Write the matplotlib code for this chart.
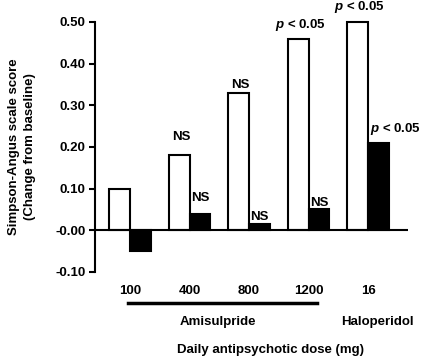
import numpy as np
import matplotlib
matplotlib.use("Agg")
import matplotlib.pyplot as plt
import matplotlib.transforms as mtransforms

plt.rcParams['font.family'] = ['Liberation Sans', 'DejaVu Sans']
plt.rcParams['font.weight'] = 'bold'
plt.rcParams['mathtext.fontset'] = 'custom'
plt.rcParams['mathtext.it'] = 'Liberation Sans:italic:bold'
plt.rcParams['mathtext.rm'] = 'Liberation Sans:bold'

# data
doses = ['100', '400', '800', '1200', '16']
white_vals = [0.10, 0.18, 0.33, 0.46, 0.50]
black_vals = [-0.05, 0.04, 0.015, 0.05, 0.21]
white_notes = ['', 'NS', 'NS', '$p$ < 0.05', '$p$ < 0.05']
black_notes = ['', 'NS', 'NS', 'NS', '$p$ < 0.05']
ytick_vals = [-0.10, 0.0, 0.10, 0.20, 0.30, 0.40, 0.50]
ytick_labels = ['-0.10', '-0.00', '0.10', '0.20', '0.30', '0.40', '0.50']

# gap between bar top and note centre
white_off = [0, 0.045, 0.018, 0.033, 0.037]
black_off = [0, 0.038, 0.016, 0.016, 0.034]

fs = 9.5
x = np.arange(len(doses))
w = 0.35

fig = plt.figure(figsize=(4.31, 3.6), dpi=100)
ax = fig.add_axes([95/431, 1-272/360, 313/431, 250/360])

ax.bar(x - w/2, white_vals, w, color='white', edgecolor='black', linewidth=1.5, clip_on=False)
ax.bar(x + w/2, black_vals, w, color='black', edgecolor='black', linewidth=1.5, clip_on=False)
ax.axhline(0, color='black', lw=1.5)

for i in range(len(doses)):
    if white_notes[i]:
        ax.text(x[i] - w/2 + 0.03, white_vals[i] + white_off[i], white_notes[i], ha='center', va='center',
                fontsize=fs, fontweight='bold', clip_on=False)
    if black_notes[i]:
        if 'p' in black_notes[i]:
            ax.text(x[i] + 0.03, black_vals[i] + black_off[i], black_notes[i], ha='left', va='center',
                    fontsize=fs, fontweight='bold', clip_on=False)
        else:
            ax.text(x[i] + w/2, black_vals[i] + black_off[i], black_notes[i], ha='center', va='center',
                    fontsize=fs, fontweight='bold', clip_on=False)

ax.set_xlim(-0.59, 4.67)
ax.set_ylim(-0.10, 0.50)
ax.set_yticks(ytick_vals)
ax.set_yticklabels(ytick_labels, fontsize=fs, fontweight='bold')
ax.tick_params(axis='y', direction='out', length=4, width=1.5, pad=3)
ax.set_xticks(x)
ax.set_xticklabels(doses, fontsize=fs, fontweight='bold')
ax.tick_params(axis='x', length=0, pad=9)

for s in ['top', 'right', 'bottom']:
    ax.spines[s].set_visible(False)
ax.spines['left'].set_linewidth(1.5)

trans = mtransforms.blended_transform_factory(ax.transData, ax.transAxes)
ax.plot([-0.03, 3.14], [-0.124, -0.124], color='black', lw=2.5, transform=trans, clip_on=False)
ax.text(1.48, -0.2, 'Amisulpride', transform=trans, ha='center', va='center', fontsize=fs, fontweight='bold')
ax.text(4.15, -0.2, 'Haloperidol', transform=trans, ha='center', va='center', fontsize=fs, fontweight='bold')
ax.text(0.56, -0.312, 'Daily antipsychotic dose (mg)', transform=ax.transAxes, ha='center', va='center',
        fontsize=fs, fontweight='bold')

ax.set_ylabel('Simpson-Angus scale score\n(Change from baseline)', fontsize=fs, fontweight='bold',
              linespacing=1.35, labelpad=14)

fig.savefig('out.png', dpi=100)
